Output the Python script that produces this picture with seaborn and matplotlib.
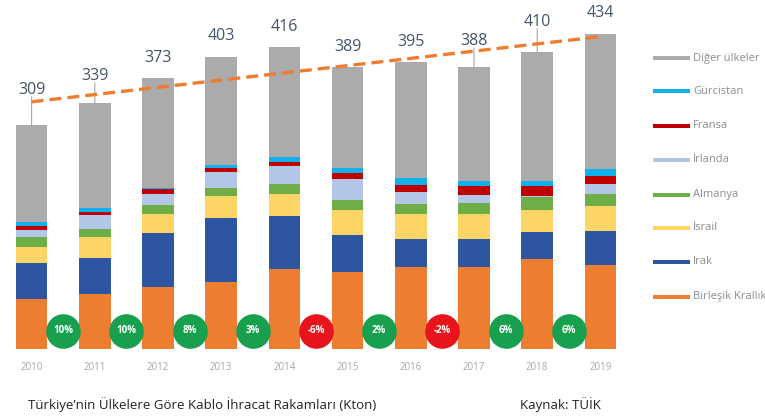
import numpy as np
import pandas as pd
import matplotlib
matplotlib.use("Agg")
import matplotlib.pyplot as plt
from matplotlib.patches import Rectangle
import seaborn as sns

sns.set_theme(style="white")
plt.rcParams['font.family'] = ['Open Sans', 'DejaVu Sans']

years = ["2010", "2011", "2012", "2013", "2014", "2015", "2016", "2017", "2018", "2019"]
totals = [309, 339, 373, 403, 416, 389, 395, 388, 410, 434]

# stacked segments, bottom to top
birlesik_krallik = [69, 76, 86, 92, 110, 106, 113, 113, 124, 116]
irak = [50, 50, 74, 89, 73, 51, 38, 38, 37, 47]
israil = [21, 28, 26, 30, 31, 34, 35, 35, 31, 34]
almanya = [14, 12, 13, 11.5, 13, 15, 14, 15, 18, 16]
irlanda = [10, 18, 14, 21, 25, 28, 16, 11.5, 1.5, 14]
fransa = [6, 4.5, 7, 6, 5.5, 8, 10, 11.5, 13, 11.5]
gurcistan = [4.5, 6, 2, 4.5, 7, 8, 9, 8, 7, 10]

growth_labels = ["10%", "10%", "8%", "3%", "-6%", "2%", "-2%", "6%", "6%"]

series_names = ["Birleşik Krallık", "Irak", "İsrail", "Almanya", "İrlanda", "Fransa", "Gürcistan", "Diğer ülkeler"]
colors = ["#ED7D31", "#2E55A1", "#FCD566", "#6FAD47", "#B4C6E7", "#C00000", "#10B0EC", "#ABABAB"]

layers = [birlesik_krallik, irak, israil, almanya, irlanda, fransa, gurcistan]

W, H = 765, 416
fig = plt.figure(figsize=(W / 100, H / 100), dpi=100)
ax = fig.add_axes([0, (H - 349) / H, 632 / W, 349 / H])

# cumulative tops; draw from the total downwards so lower layers overlay upper ones
cum = np.cumsum(np.array(layers, dtype=float), axis=0)
tops = [cum[i] for i in range(len(layers))] + [np.array(totals, dtype=float)]
for name, top, col in reversed(list(zip(series_names, tops, colors))):
    df = pd.DataFrame({"year": years, "value": top})
    sns.barplot(data=df, x="year", y="value", color=col, width=0.5,
                saturation=1, ax=ax, linewidth=0, errorbar=None)

ax.set_xlim(-0.5, 9.5)
ax.set_ylim(0, 481)
for s in ax.spines.values():
    s.set_visible(False)
ax.set_yticks([])
ax.set_xlabel("")
ax.set_ylabel("")
ax.tick_params(axis="x", length=0, pad=9, labelsize=7, labelcolor="#A6A6A6")

# linear trend of totals
xs = np.arange(len(totals))
slope, intercept = np.polyfit(xs, totals, 1)
ax.plot([xs[0], xs[-1]], [intercept + slope * xs[0], intercept + slope * xs[-1]],
        color="#ED7D31", lw=2.4, ls=(0, (3.6, 1.8)), zorder=5)

# value labels (offset above bar top, points)
label_offsets = [25, 19.5, 15, 15, 14.5, 14.5, 15, 19, 21.5, 15]
for i, (t, off) in enumerate(zip(totals, label_offsets)):
    ax.annotate(str(t), xy=(i, t), xytext=(0, off), textcoords="offset points",
                ha="center", va="center", fontsize=11.5, color="#44546A", zorder=6)
    if off > 18:
        ax.annotate("", xy=(i, t), xytext=(0, off - 5), textcoords="offset points",
                    arrowprops=dict(arrowstyle="-", color="#A6A6A6", lw=0.8,
                                    shrinkA=0, shrinkB=0), zorder=4)

# growth circles
for i, g in enumerate(growth_labels):
    col = "#E8141B" if g.startswith("-") else "#18A04E"
    ax.scatter([i + 0.5], [25], s=620, color=col, zorder=7, linewidths=0)
    ax.text(i + 0.5, 25, g, ha="center", va="center", fontsize=7,
            color="white", fontweight="bold", zorder=8)

# legend (manual)
leg_y = [58, 91, 126, 160, 195, 228, 262, 297]
for name, col, y in zip(reversed(series_names), reversed(colors), leg_y):
    fig.add_artist(Rectangle((653 / W, (H - y - 2) / H), 37 / W, 4 / H,
                             transform=fig.transFigure, color=col, lw=0))
    fig.text(693 / W, (H - y) / H, name, ha="left", va="center",
             fontsize=8, color="#8C8C8C")

fig.text(28 / W, (H - 405) / H, "Türkiye’nin Ülkelere Göre Kablo İhracat Rakamları (Kton)",
         ha="left", va="center", fontsize=9.5, color="#222222")
fig.text(520 / W, (H - 405) / H, "Kaynak: TÜİK", ha="left", va="center",
         fontsize=9.5, color="#222222")

fig.savefig("out.png", dpi=100)
